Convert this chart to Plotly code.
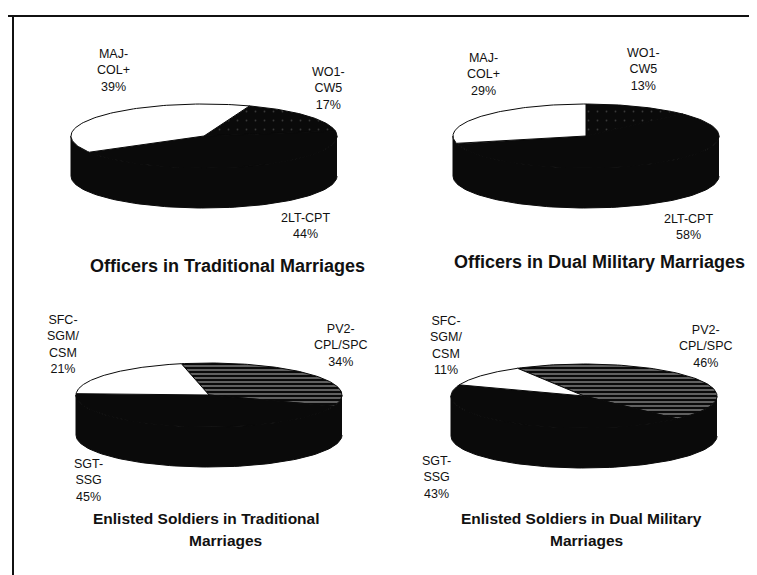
import numpy as np
import plotly.graph_objects as go

# ---------------- data ----------------
panel_titles = [
    "Officers in Traditional Marriages",
    "Officers in Dual Military Marriages",
    "Enlisted Soldiers in Traditional<br>Marriages",
    "Enlisted Soldiers in Dual Military<br>Marriages",
]
# categories listed clockwise, starting from each pie's start angle
officer_cats = ["WO1-<br>CW5", "2LT-CPT", "MAJ-<br>COL+"]
officer_trad = [17, 44, 39]
officer_dual = [13, 58, 29]
enlisted_cats = ["PV2-<br>CPL/SPC", "SGT-<br>SSG", "SFC-<br>SGM/<br>CSM"]
enlisted_trad = [34, 45, 21]
enlisted_dual = [46, 43, 11]

# ---------------- styles / layout constants ----------------
W, H = 757, 575
A, B, DEPTH = 133, 32, 40
FONT = "Liberation Sans, Arial, sans-serif"
INK = "#0a0a0a"

officer_styles = [
    dict(color=INK, pattern=dict(shape=".", fgcolor="#6a6a6a", bgcolor=INK, size=9, solidity=0.03)),
    dict(color=INK, pattern=None),
    dict(color="#ffffff", pattern=None),
]
enlisted_styles = [
    dict(color=INK, pattern=dict(shape="-", fgcolor="#ffffff", bgcolor=INK, size=4, solidity=0.35)),
    dict(color=INK, pattern=None),
    dict(color="#ffffff", pattern=None),
]

panels = [
    dict(vals=officer_trad, cats=officer_cats, styles=officer_styles, cx=196, cy=128, start=20,
         label_pos=[(320, 80), (297, 218), (105, 62)],
         title_pos=[(219, 258)], title_size=18),
    dict(vals=officer_dual, cats=officer_cats, styles=officer_styles, cx=578, cy=128, start=0,
         label_pos=[(635, 61), (680, 219), (475, 66)],
         title_pos=[(591, 254)], title_size=18),
    dict(vals=enlisted_trad, cats=enlisted_cats, styles=enlisted_styles, cx=201, cy=387, start=-12,
         label_pos=[(333, 337), (80, 472), (55, 336)],
         title_pos=[(198, 510), (217, 532)], title_size=15.5),
    dict(vals=enlisted_dual, cats=enlisted_cats, styles=enlisted_styles, cx=576, cy=388, start=-30,
         label_pos=[(698, 338), (428, 469), (438, 337)],
         title_pos=[(573, 510), (578, 532)], title_size=15.5),
]


def arc(cx, cy, t0, t1, n=90):
    t = np.radians(np.linspace(t0, t1, n))
    return cx + A * np.sin(t), cy - B * np.cos(t)


fig = go.Figure()
annotations = []

for p, title in zip(panels, panel_titles):
    cx, cy = p["cx"], p["cy"]
    # side wall of the 3D pie (front half)
    xs_top, ys_top = arc(cx, cy, 90, 270)
    xs = np.concatenate([xs_top, xs_top[::-1]])
    ys = np.concatenate([ys_top, ys_top[::-1] + DEPTH])
    fig.add_trace(go.Scatter(x=xs, y=ys, fill="toself", mode="lines",
                             fillcolor=INK, line=dict(color=INK, width=1),
                             hoverinfo="skip", showlegend=False))
    # top face slices
    total = sum(p["vals"])
    t0 = p["start"]
    for v, st in zip(p["vals"], p["styles"]):
        t1 = t0 + 360.0 * v / total
        ax_, ay_ = arc(cx, cy, t0, t1)
        xs = np.concatenate([[cx], ax_, [cx]])
        ys = np.concatenate([[cy], ay_, [cy]])
        kw = dict(x=xs, y=ys, fill="toself", mode="lines", fillcolor=st["color"],
                  line=dict(color=INK, width=1), hoverinfo="skip", showlegend=False)
        if st["pattern"] is not None:
            kw["fillpattern"] = st["pattern"]
        fig.add_trace(go.Scatter(**kw))
        t0 = t1
    # slice labels
    for cat, v, (lx, ly) in zip(p["cats"], p["vals"], p["label_pos"]):
        annotations.append(dict(x=lx, y=ly, xref="x", yref="y", text=f"{cat}<br>{v}%",
                                showarrow=False, font=dict(family=FONT, size=12.5, color="#111"),
                                align="center"))
    # title (one annotation per line)
    for line, (tx, ty) in zip(title.split("<br>"), p["title_pos"]):
        annotations.append(dict(x=tx, y=ty, xref="x", yref="y", text=f"<b>{line}</b>",
                                showarrow=False,
                                font=dict(family=FONT, size=p["title_size"], color="#111")))

fig.update_layout(
    width=W, height=H,
    margin=dict(l=0, r=0, t=0, b=0),
    paper_bgcolor="white", plot_bgcolor="white",
    xaxis=dict(range=[0, W], visible=False, fixedrange=True),
    yaxis=dict(range=[H, 0], visible=False, fixedrange=True),
    annotations=annotations,
    shapes=[
        dict(type="line", xref="paper", yref="paper", x0=0, x1=748 / W, y0=1 - 8 / H, y1=1 - 8 / H,
             line=dict(color="#111", width=2)),
        dict(type="line", xref="paper", yref="paper", x0=5 / W, x1=5 / W, y0=1 - 8 / H, y1=1 - 570 / H,
             line=dict(color="#111", width=2)),
    ],
    showlegend=False,
)

fig.write_html("out.html")
